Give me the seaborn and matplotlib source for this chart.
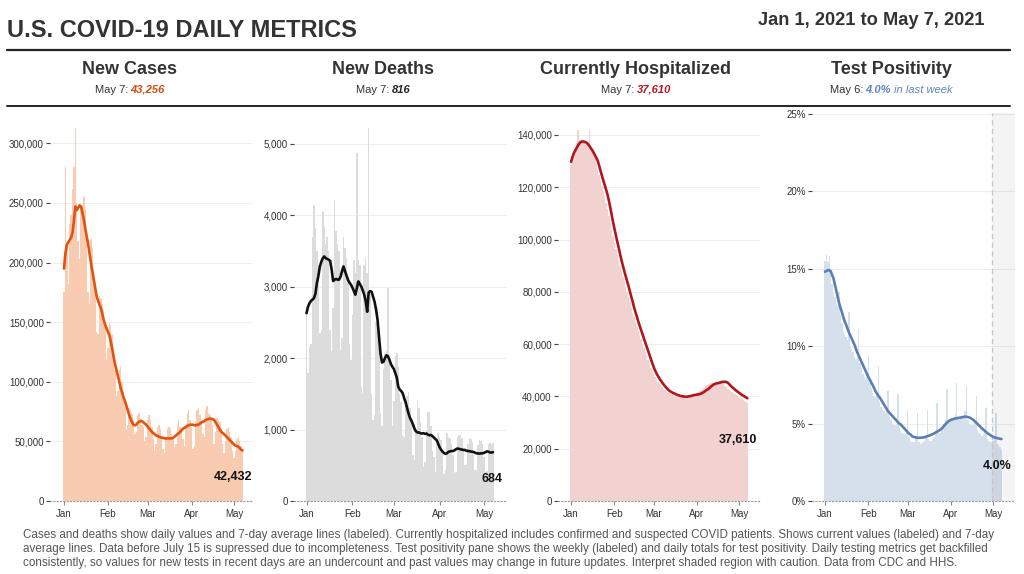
import numpy as np
import pandas as pd
import seaborn as sns
import matplotlib
matplotlib.use("Agg")
import matplotlib.pyplot as plt
from matplotlib.lines import Line2D
from matplotlib.ticker import FuncFormatter, FixedLocator

# ---------------- data (day 0 = Jan 1, 2021 ... day 126 = May 7, 2021) ----------------
month_ticks = [0, 31, 59, 90, 120]
month_labels = ["Jan", "Feb", "Mar", "Apr", "May"]
shade_start_day = 119.5

cases_daily_k = [
    175, 280, 215, 182, 232, 240, 262,
    280, 313, 250, 218, 203, 245, 248,
    255, 245, 225, 175, 165, 220, 212,
    192, 182, 142, 140, 172, 170, 165,
    160, 148, 118, 128, 150, 148, 140,
    125, 110, 88, 92, 110, 112, 100,
    92, 82, 60, 64, 78, 76, 73,
    68, 56, 58, 72, 74, 70, 64,
    62, 50, 54, 68, 72, 68, 62,
    52, 42, 48, 62, 64, 60, 54,
    44, 40, 54, 60, 62, 60, 56,
    52, 45, 48, 64, 68, 62, 60,
    52, 46, 64, 74, 76, 68, 62,
    44, 46, 66, 76, 78, 72, 66,
    56, 54, 76, 80, 74, 72, 70,
    64, 48, 58, 70, 68, 66, 60,
    48, 40, 50, 60, 62, 58, 54,
    42, 36, 42, 52, 54, 50, 46,
    43.256]
cases_avg_k = [
    195, 208, 215, 217, 219, 221, 225,
    235, 247, 244, 246, 248, 247, 242,
    236, 229, 222, 216, 208, 200, 193,
    186, 179, 172, 168, 165, 162, 157,
    152, 148, 145, 142, 139, 134, 128,
    121, 115, 110, 105, 100, 95, 91,
    87, 84, 80, 76, 72, 69, 66,
    64, 63.5, 64, 65.5, 66.5, 67, 67,
    66, 65, 64, 62.5, 61, 59.5, 58,
    57, 56, 55, 54.5, 54, 53.5, 53,
    53, 52.5, 52.5, 52.5, 52.5, 52.5, 52.5,
    53, 54, 55, 56, 57, 58, 59.5,
    60.5, 61.5, 62, 63, 63.5, 64, 64,
    64, 63.5, 63.5, 64, 64, 65, 66,
    66.5, 67, 68, 68.5, 69, 69, 69,
    68.5, 68, 66, 64, 62, 60, 58,
    57, 56, 55, 53.5, 52.5, 51, 50,
    48.5, 47.5, 46.5, 46, 45.5, 44.5, 43,
    42.432]

deaths_daily = [
    2600, 1790, 2160, 2200, 3700, 4150, 3820,
    3500, 3300, 2350, 2400, 4060, 3850, 3600,
    3700, 3500, 2400, 2100, 2700, 4220, 3780,
    3600, 3500, 2120, 2280, 3700, 3550, 3400,
    3100, 2200, 1980, 2600, 3380, 3200, 4880,
    3380, 3300, 1600, 1510, 3300, 3400, 3200,
    5220, 2900, 1500, 1140, 1200, 2500, 2700,
    2300, 1230, 1050, 1850, 2070, 2100, 2980,
    2020, 1700, 1050, 1400, 2030, 2070, 1880,
    1500, 1380, 930, 900, 1400, 1470, 1520,
    1300, 1100, 650, 580, 1000, 1400, 1300,
    1100, 900, 480, 550, 1000, 1250, 1250,
    1050, 700, 620, 400, 800, 950, 900,
    850, 680, 380, 430, 950, 900, 880,
    800, 650, 390, 400, 900, 930, 920,
    880, 700, 500, 500, 800, 880, 870,
    820, 650, 430, 434, 780, 860, 840,
    800, 620, 410, 420, 800, 810, 800,
    816]
deaths_avg = [
    2630, 2720, 2770, 2800, 2820, 2840, 2900,
    3050, 3150, 3280, 3350, 3400, 3425, 3400,
    3390, 3380, 3360, 3240, 3080, 3100, 3110,
    3100, 3100, 3140, 3220, 3285, 3220, 3160,
    3100, 3060, 3030, 2990, 2940, 2890, 2980,
    3075, 3040, 3005, 2950, 2890, 2800, 2650,
    2920, 2940, 2930, 2860, 2790, 2680, 2540,
    2300, 2070, 1940, 1950, 2000, 2040, 2030,
    1980, 1920, 1880, 1850, 1790, 1730, 1600,
    1560, 1540, 1510, 1440, 1380, 1300, 1220,
    1160, 1120, 1070, 1010, 975, 960, 960,
    950, 945, 950, 940, 945, 930, 920,
    925, 910, 890, 870, 850, 800, 750,
    715, 690, 670, 660, 670, 690, 695,
    700, 700, 710, 725, 735, 730, 725,
    720, 715, 715, 705, 700, 700, 692,
    690, 685, 675, 668, 665, 665, 668,
    668, 675, 685, 695, 690, 680, 678,
    684]

hosp_daily_k = [
    128.5, 131, 133.5, 135.5, 137, 141.8, 138,
    138, 137.5, 137.2, 137, 136.5, 136, 142,
    134.5, 133.5, 132.3, 131, 129, 127, 124.5,
    122.5, 120.5, 118.5, 116.5, 114, 111.5, 109,
    106.5, 103.8, 101.3, 98.8, 96.5, 94, 92,
    89.8, 87.8, 85.8, 84, 82, 80, 78,
    76, 74, 72, 70.2, 68.4, 66.7, 65,
    63.4, 61.8, 60.2, 58.6, 57, 55.4, 53.8,
    52.3, 50.8, 49.5, 48.4, 47.4, 46.6, 45.7,
    44.9, 44.2, 43.6, 43, 42.4, 42, 41.6,
    41.3, 41, 40.8, 40.5, 40.3, 40.1, 40,
    39.9, 39.8, 39.8, 39.9, 40, 40.1, 40.3,
    40.4, 40.5, 40.6, 40.7, 40.8, 41, 41.2,
    41.6, 42, 42.4, 42.8, 43.2, 43.8, 44.3,
    44.7, 44.9, 45, 45.1, 45.2, 45.3, 45.5,
    45.6, 45.7, 45.5, 45.1, 44.6, 44, 43.5,
    43, 42.5, 42.1, 41.7, 41.3, 40.9, 40.5,
    40.1, 39.8, 39.4, 39, 38.7, 38.3, 38,
    37.61]
hosp_avg_k = [
    129.7, 131.5, 133, 134, 135, 136, 136.8,
    137.3, 137.5, 137.5, 137.3, 137.1, 136.6, 135.9,
    135.1, 134.3, 133.4, 132.4, 131.3, 130.3, 128.5,
    126.5, 124.6, 122.7, 121, 119.2, 117.4, 115,
    112.4, 109.6, 106.8, 104.2, 101.8, 99.3, 97,
    94.6, 92.2, 90.1, 88.1, 86.1, 84.2, 82.4,
    80.3, 78.3, 76.3, 74.2, 72.3, 70.6, 68.8,
    67.1, 65.5, 63.9, 62.3, 60.7, 59.1, 57.6,
    56, 54.4, 52.8, 51.3, 50, 48.9, 47.9,
    47, 46.2, 45.4, 44.7, 44, 43.4, 42.8,
    42.3, 41.9, 41.6, 41.3, 41.1, 40.8, 40.6,
    40.4, 40.2, 40.1, 40, 39.9, 39.9, 39.9,
    40, 40.1, 40.2, 40.4, 40.5, 40.6, 40.7,
    40.8, 40.9, 41.1, 41.4, 41.7, 42.1, 42.5,
    42.8, 43.3, 43.8, 44.2, 44.6, 44.8, 45,
    45.1, 45.2, 45.4, 45.5, 45.6, 45.6, 45.5,
    45.2, 44.7, 44.1, 43.6, 43.1, 42.7, 42.2,
    41.8, 41.4, 41, 40.6, 40.3, 40, 39.6,
    39.3]

pos_daily = [
    15.5, 15.9, 15.4, 15.8, 14.6, 14.0, 13.5,
    13.2, 12.8, 12.6, 13.5, 12.0, 11.5, 11.0,
    10.8, 10.6, 10.4, 12.2, 10.0, 9.8, 9.6,
    9.3, 9.2, 9.3, 11.1, 8.9, 8.6, 8.2,
    8.0, 7.9, 8.0, 9.4, 7.6, 7.3, 7.0,
    6.8, 6.7, 6.8, 8.7, 6.4, 6.1, 5.9,
    5.8, 5.7, 5.8, 7.1, 5.4, 5.2, 5.0,
    4.9, 4.9, 5.0, 6.9, 4.7, 4.5, 4.4,
    4.3, 4.3, 4.4, 5.9, 4.1, 3.9, 3.8,
    3.8, 3.8, 4.0, 5.7, 3.8, 3.7, 3.7,
    3.8, 3.9, 4.1, 5.9, 4.0, 3.9, 3.9,
    4.0, 4.1, 4.3, 6.3, 4.4, 4.4, 4.6,
    4.8, 5.0, 5.3, 7.2, 5.2, 5.1, 5.2,
    5.3, 5.4, 5.6, 7.6, 5.3, 5.2, 5.3,
    5.4, 5.5, 5.8, 7.4, 5.2, 5.0, 4.9,
    4.9, 4.9, 5.2, 6.8, 4.6, 4.4, 4.3,
    4.2, 4.3, 4.5, 6.0, 4.0, 3.9, 3.8,
    3.8, 3.9, 4.1, 5.7, 3.7, 3.6, 3.5,
    3.3]
pos_avg = [
    14.8, 14.85, 14.9, 14.9, 14.85, 14.6, 14.4,
    14.0, 13.6, 13.2, 12.8, 12.5, 12.2, 11.9,
    11.6, 11.4, 11.15, 10.9, 10.7, 10.5, 10.3,
    10.1, 9.85, 9.6, 9.4, 9.2, 9.0, 8.8,
    8.6, 8.4, 8.2, 8.0, 7.85, 7.65, 7.5,
    7.3, 7.1, 6.95, 6.8, 6.7, 6.55, 6.4,
    6.25, 6.1, 5.95, 5.8, 5.7, 5.6, 5.5,
    5.4, 5.3, 5.2, 5.1, 5.0, 4.95, 4.85,
    4.75, 4.65, 4.55, 4.45, 4.35, 4.3, 4.2,
    4.15, 4.12, 4.1, 4.08, 4.08, 4.08, 4.09,
    4.1, 4.12, 4.15, 4.18, 4.21, 4.24, 4.28,
    4.32, 4.37, 4.42, 4.47, 4.52, 4.58, 4.65,
    4.74, 4.85, 4.95, 5.05, 5.13, 5.2, 5.24,
    5.27, 5.3, 5.32, 5.34, 5.36, 5.37, 5.39,
    5.41, 5.43, 5.45, 5.44, 5.42, 5.4, 5.35,
    5.3, 5.23, 5.15, 5.06, 4.97, 4.88, 4.79,
    4.7, 4.62, 4.54, 4.46, 4.38, 4.32, 4.26,
    4.2, 4.15, 4.11, 4.08, 4.06, 4.04, 4.02,
    4.0]

days = np.arange(len(cases_daily_k))

# ---------------- figure ----------------
sns.set_theme(style="white")
plt.rcParams['font.family'] = ['Liberation Sans', 'DejaVu Sans']

W, H = 1024, 574
fig = plt.figure(figsize=(W / 100, H / 100), dpi=100)
fig.patch.set_facecolor("white")
renderer = fig.canvas.get_renderer()


def fx(px):
    return px / W


def fy(py):
    return 1 - py / H


def fit_width(t, target):
    w = t.get_window_extent(renderer).width
    t.set_fontsize(t.get_fontsize() * target / w)


TXT = "#333333"
AX_TOP, AX_BOT = 113, 501

comma = FuncFormatter(lambda v, p: f"{int(round(v)):,}")
pct = FuncFormatter(lambda v, p: f"{int(round(v))}%")

panels = [
    dict(title="New Cases", cx=130, left=50, right=253, jan=64, ppd=1.417,
         daily=np.array(cases_daily_k) * 1000, avg=np.array(cases_avg_k) * 1000,
         bar="#f9cbb0", line="#e2530f", ymax=325500, yticks=np.arange(0, 300001, 50000),
         fmt=comma, label=f"{int(round(cases_avg_k[-1] * 1000)):,}", lab_dy=-30,
         sub=[("May 7:", dict(color=TXT)),
              (f"{int(round(cases_daily_k[-1] * 1000)):,}",
               dict(color="#d9480f", fontweight="bold", fontstyle="italic"))]),
    dict(title="New Deaths", cx=383, left=294, right=507, jan=306.5, ppd=1.48,
         daily=np.array(deaths_daily, float), avg=np.array(deaths_avg, float),
         bar="#dcdcdc", line="#111111", ymax=5434, yticks=np.arange(0, 5001, 1000),
         fmt=comma, label=f"{int(round(deaths_avg[-1])):,}", lab_dy=-30,
         sub=[("May 7:", dict(color=TXT)),
              (f"{int(round(deaths_daily[-1])):,}",
               dict(color="#222222", fontweight="bold", fontstyle="italic"))]),
    dict(title="Currently Hospitalized", cx=636, left=558, right=760, jan=571, ppd=1.4,
         daily=np.array(hosp_daily_k) * 1000, avg=np.array(hosp_avg_k) * 1000,
         bar="#f2d1d1", line="#b2161b", ymax=148400, yticks=np.arange(0, 140001, 20000),
         fmt=comma, label=f"{int(round(hosp_daily_k[-1] * 1000)):,}", lab_dy=-45,
         sub=[("May 7:", dict(color=TXT)),
              (f"{int(round(hosp_daily_k[-1] * 1000)):,}",
               dict(color="#c0121a", fontweight="bold", fontstyle="italic"))]),
    dict(title="Test Positivity", cx=891, left=812, right=1015, jan=825, ppd=1.4,
         daily=np.array(pos_daily), avg=np.array(pos_avg),
         bar="#d6dfec", line="#5a7fb3", ymax=25.05, yticks=np.arange(0, 26, 5),
         fmt=pct, label=f"{pos_avg[-1]:.1f}%", lab_dy=-30,
         sub=[("May 6:", dict(color=TXT)),
              (f"{pos_avg[-1]:.1f}%", dict(color="#5b84c0", fontweight="bold", fontstyle="italic")),
              ("in last week", dict(color="#5b84c0", fontstyle="italic"))]),
]

for i, p in enumerate(panels):
    ax = fig.add_axes([fx(p["left"]), fy(AX_BOT), fx(p["right"] - p["left"]),
                       (AX_BOT - AX_TOP) / H])
    df = pd.DataFrame({"day": days, "daily": p["daily"], "avg": p["avg"]})
    sns.barplot(data=df, x="day", y="daily", native_scale=True, width=1.0,
                color=p["bar"], saturation=1, linewidth=0, errorbar=None, ax=ax)
    sns.lineplot(data=df, x="day", y="avg", color=p["line"], linewidth=1.9, ax=ax,
                 zorder=4)
    if i == 3:
        ax.axvspan(shade_start_day, 200, color="black", alpha=0.045, lw=0, zorder=3)
        ax.axvline(shade_start_day, color="#c4c4c4", lw=0.9, ls=(0, (4, 3)), zorder=3.5)

    ax.set_xlim((p["left"] - p["jan"]) / p["ppd"], (p["right"] - p["jan"]) / p["ppd"])
    ax.set_ylim(0, p["ymax"])
    ax.set_xlabel("")
    ax.set_ylabel("")
    ax.xaxis.set_major_locator(FixedLocator(month_ticks))
    ax.set_xticklabels(month_labels)
    ax.yaxis.set_major_locator(FixedLocator(p["yticks"]))
    ax.yaxis.set_major_formatter(p["fmt"])
    ax.tick_params(axis="y", left=True, length=3, width=0.8, color="#444444",
                   pad=1.5, labelsize=7, labelcolor=TXT)
    ax.tick_params(axis="x", bottom=True, length=3, width=0.8, color="#888888",
                   pad=2.5, labelsize=7, labelcolor=TXT)
    ax.yaxis.grid(True, color="#eeeeee", linewidth=0.8)
    ax.xaxis.grid(False)
    ax.set_axisbelow(True)
    for s in ["left", "top", "right"]:
        ax.spines[s].set_visible(False)
    ax.spines["bottom"].set_linestyle((0, (1, 2)))
    ax.spines["bottom"].set_color("#999999")
    ax.spines["bottom"].set_linewidth(0.8)
    ax.patch.set_alpha(0)

    ax.annotate(p["label"], xy=(days[-1], p["avg"][-1]), xytext=(10, p["lab_dy"]),
                textcoords="offset pixels", ha="right", va="baseline",
                fontsize=9, fontweight="bold", color="#111111", zorder=6)

    # panel title
    fig.text(fx(p["cx"]), fy(74), p["title"], ha="center", va="baseline",
             fontsize=13, fontweight="bold", color=TXT)
    # rich subtitle
    texts = [fig.text(0, fy(93), s, ha="left", va="baseline", fontsize=8, **kw)
             for s, kw in p["sub"]]
    widths = [t.get_window_extent(renderer).width for t in texts]
    gap = 2.5
    total = sum(widths) + gap * (len(texts) - 1)
    x = p["cx"] - total / 2
    for t, w in zip(texts, widths):
        t.set_x(fx(x))
        x += w + gap

# header
t = fig.text(fx(7), fy(37), "U.S. COVID-19 DAILY METRICS", ha="left", va="baseline",
             fontsize=17, fontweight="bold", color=TXT)
fit_width(t, 351)
t = fig.text(fx(984), fy(25), "Jan 1, 2021 to May 7, 2021", ha="right", va="baseline",
             fontsize=13, fontweight="bold", color=TXT)
fit_width(t, 226)

fig.add_artist(Line2D([fx(7), fx(1010)], [fy(50), fy(50)], color="#222222", lw=1.6))
fig.add_artist(Line2D([fx(7), fx(1010)], [fy(105.5), fy(105.5)], color="#222222", lw=1.4))

notes = [
    "Cases and deaths show daily values and 7-day average lines (labeled). Currently hospitalized includes confirmed and suspected COVID patients. Shows current values (labeled) and 7-day",
    "average lines. Data before July 15 is supressed due to incompleteness. Test positivity pane shows the weekly (labeled) and daily totals for test positivity. Daily testing metrics get backfilled",
    "consistently, so values for new tests in recent days are an undercount and past values may change in future updates. Interpret shaded region with caution. Data from CDC and HHS.",
]
note_font = ["Liberation Sans Narrow", "Liberation Sans", "DejaVu Sans"]
nt = [fig.text(fx(23), fy(538 + 13.8 * k), s, ha="left", va="baseline", fontsize=8,
               color="#555555", family=note_font) for k, s in enumerate(notes)]
w0 = nt[0].get_window_extent(renderer).width
for t in nt:
    t.set_fontsize(8 * 976 / w0)

fig.savefig("out.png", dpi=100, facecolor="white")
